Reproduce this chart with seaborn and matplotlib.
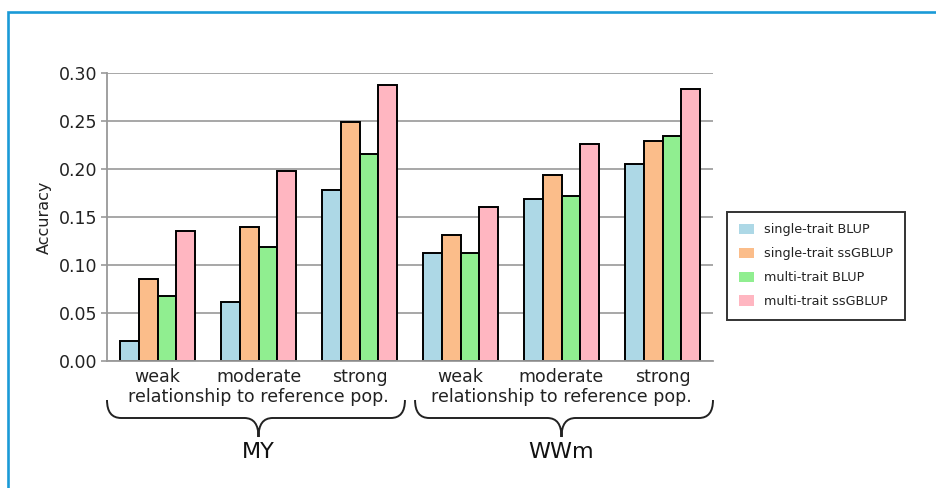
import matplotlib
matplotlib.use("Agg")
import matplotlib.pyplot as plt
import seaborn as sns
import pandas as pd
from matplotlib.path import Path
from matplotlib.patches import PathPatch, Rectangle, Patch
import matplotlib.transforms as mtransforms

# ---- data ----
traits = ["MY", "WWm"]
relationships = ["weak", "moderate", "strong"]
methods = ["single-trait BLUP", "single-trait ssGBLUP", "multi-trait BLUP", "multi-trait ssGBLUP"]
single_trait_blup = [0.021, 0.062, 0.178, 0.113, 0.169, 0.205]
single_trait_ssgblup = [0.086, 0.140, 0.249, 0.131, 0.194, 0.229]
multi_trait_blup = [0.068, 0.119, 0.216, 0.113, 0.172, 0.235]
multi_trait_ssgblup = [0.136, 0.198, 0.288, 0.161, 0.226, 0.284]
colors = ["#add8e6", "#fbbd8a", "#90ee90", "#ffb6c1"]
subtitle = "relationship to reference pop."

series = [single_trait_blup, single_trait_ssgblup, multi_trait_blup, multi_trait_ssgblup]
groups = [f"{t} {r}" for t in traits for r in relationships]
rows = []
for m, vals in zip(methods, series):
    for g, v in zip(groups, vals):
        rows.append({"group": g, "method": m, "acc": v})
df = pd.DataFrame(rows)

sns.set_theme(style="white")
plt.rcParams["font.family"] = ["DejaVu Sans"]

W, H = 936, 488
fig = plt.figure(figsize=(W / 100, H / 100), dpi=100)
ax = fig.add_axes([107 / W, 1 - 361 / H, (713 - 107) / W, (361 - 73.3) / H])

sns.barplot(data=df, x="group", y="acc", hue="method", order=groups, hue_order=methods,
            palette=colors, width=0.74, edgecolor="black", linewidth=1.4,
            saturation=1, ax=ax, legend=False)

yticks = [0.0, 0.05, 0.10, 0.15, 0.20, 0.25, 0.30]
ax.set_xlim(-0.5, len(groups) - 0.5)
ax.set_ylim(0, 0.30)
ax.set_yticks(yticks)
ax.set_yticklabels([f"{v:.2f}" for v in yticks])
ax.set_xticks(range(len(groups)))
ax.set_xticklabels(relationships * len(traits))
ax.set_xticks([i - 0.5 for i in range(len(groups) + 1)], minor=True)
ax.tick_params(axis="x", which="major", length=0, pad=5, labelsize=12.5, labelcolor="#222222")
ax.tick_params(axis="x", which="minor", length=4, width=1.2, color="#999999", direction="out")
ax.tick_params(axis="y", which="major", length=4, width=1.2, color="#999999", direction="out",
               labelsize=12.5, labelcolor="#222222", pad=3, left=True)
ax.set_xlabel("")
ax.set_ylabel("Accuracy", fontsize=11.5, color="#222222", labelpad=5)

ax.yaxis.grid(True, color="#a0a0a0", linewidth=1.3)
ax.set_axisbelow(True)
for s in ["top", "right"]:
    ax.spines[s].set_visible(False)
for s in ["left", "bottom"]:
    ax.spines[s].set_color("#999999")
    ax.spines[s].set_linewidth(1.3)

# subtitles, braces, trait labels
trans = mtransforms.blended_transform_factory(ax.transData, ax.transAxes)
axh = 361 - 73.3
def ay(px):
    return (361 - px) / axh

for i, t in enumerate(traits):
    xc = i * 3 + 1
    ax.text(xc, ay(397), subtitle, transform=trans, ha="center", va="center",
            fontsize=12.6, color="#222222")
    x0 = xc - 1.5 + (0.0 if i == 0 else 0.05)
    x1 = xc + 1.5 - (0.05 if i == 0 else 0.0)
    r = 0.14
    yt, ym, yb = ay(400), ay(418), ay(437)
    verts = [(x0, yt), (x0, ym), (x0 + r, ym),
             (xc - r, ym), (xc, ym), (xc, yb),
             (xc, ym), (xc + r, ym),
             (x1 - r, ym), (x1, ym), (x1, yt)]
    codes = [Path.MOVETO, Path.CURVE3, Path.CURVE3,
             Path.LINETO, Path.CURVE3, Path.CURVE3,
             Path.CURVE3, Path.CURVE3,
             Path.LINETO, Path.CURVE3, Path.CURVE3]
    ax.add_patch(PathPatch(Path(verts, codes), transform=trans, fill=False,
                           edgecolor="#222222", linewidth=1.4, clip_on=False))
    ax.text(xc, ay(452), t, transform=trans, ha="center", va="center",
            fontsize=16, color="#111111")

# legend
handles = [Patch(facecolor=c, edgecolor="none") for c in colors]
leg = fig.legend(handles, methods, loc="upper left",
                 bbox_to_anchor=(727 / W, 1 - 212 / H), fontsize=9.2,
                 frameon=True, fancybox=False, edgecolor="black",
                 handlelength=1.2, handleheight=0.9, handletextpad=0.8,
                 labelspacing=0.85, borderpad=0.9, borderaxespad=0)
leg.get_frame().set_linewidth(1.4)
for txt in leg.get_texts():
    txt.set_color("#222222")

# blue frame
fig.patches.append(Rectangle((8.3 / W, -0.1), 1.2, (H - 12.5) / H + 0.1,
                             transform=fig.transFigure, fill=False,
                             edgecolor="#1a9ad7", linewidth=1.9, figure=fig))

fig.savefig("out.png", dpi=100)
